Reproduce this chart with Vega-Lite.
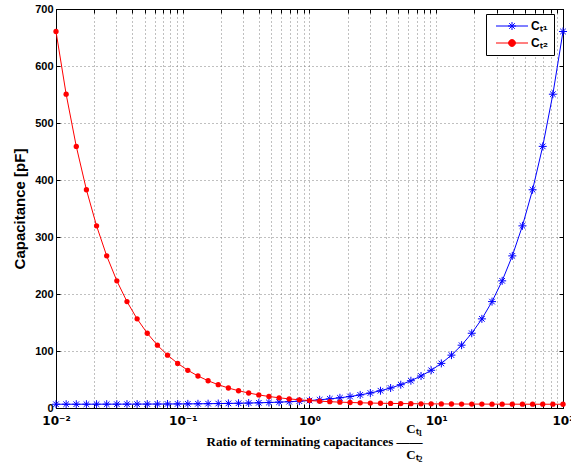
{
  "$schema": "https://vega.github.io/schema/vega-lite/v6.json",
  "width": 507,
  "height": 399,
  "autosize": {"type": "none"},
  "padding": {"left": 56, "top": 9, "right": 8, "bottom": 55},
  "background": "white",
  "data": {
    "values": [
      {"x": 0.01, "CT1": 6.61, "CT2": 660.54},
      {"x": 0.012023, "CT1": 6.62, "CT2": 550.51},
      {"x": 0.014454, "CT1": 6.63, "CT2": 458.99},
      {"x": 0.017378, "CT1": 6.65, "CT2": 382.88},
      {"x": 0.020893, "CT1": 6.68, "CT2": 319.56},
      {"x": 0.025119, "CT1": 6.70, "CT2": 266.90},
      {"x": 0.0302, "CT1": 6.74, "CT2": 223.10},
      {"x": 0.036308, "CT1": 6.78, "CT2": 186.66},
      {"x": 0.043652, "CT1": 6.83, "CT2": 156.36},
      {"x": 0.052481, "CT1": 6.88, "CT2": 131.16},
      {"x": 0.063096, "CT1": 6.95, "CT2": 110.19},
      {"x": 0.075858, "CT1": 7.04, "CT2": 92.76},
      {"x": 0.091201, "CT1": 7.14, "CT2": 78.25},
      {"x": 0.10965, "CT1": 7.26, "CT2": 66.19},
      {"x": 0.13183, "CT1": 7.40, "CT2": 56.15},
      {"x": 0.15849, "CT1": 7.58, "CT2": 47.81},
      {"x": 0.19055, "CT1": 7.79, "CT2": 40.86},
      {"x": 0.22909, "CT1": 8.04, "CT2": 35.09},
      {"x": 0.27542, "CT1": 8.34, "CT2": 30.29},
      {"x": 0.33113, "CT1": 8.71, "CT2": 26.29},
      {"x": 0.39811, "CT1": 9.14, "CT2": 22.97},
      {"x": 0.47863, "CT1": 9.67, "CT2": 20.20},
      {"x": 0.57544, "CT1": 10.30, "CT2": 17.91},
      {"x": 0.69183, "CT1": 11.07, "CT2": 15.99},
      {"x": 0.83176, "CT1": 11.98, "CT2": 14.40},
      {"x": 1, "CT1": 13.08, "CT2": 13.08},
      {"x": 1.2023, "CT1": 14.40, "CT2": 11.98},
      {"x": 1.4454, "CT1": 15.99, "CT2": 11.07},
      {"x": 1.7378, "CT1": 17.91, "CT2": 10.30},
      {"x": 2.0893, "CT1": 20.20, "CT2": 9.67},
      {"x": 2.5119, "CT1": 22.97, "CT2": 9.14},
      {"x": 3.02, "CT1": 26.29, "CT2": 8.71},
      {"x": 3.6308, "CT1": 30.29, "CT2": 8.34},
      {"x": 4.3652, "CT1": 35.09, "CT2": 8.04},
      {"x": 5.2481, "CT1": 40.86, "CT2": 7.79},
      {"x": 6.3096, "CT1": 47.81, "CT2": 7.58},
      {"x": 7.5858, "CT1": 56.15, "CT2": 7.40},
      {"x": 9.1201, "CT1": 66.19, "CT2": 7.26},
      {"x": 10.965, "CT1": 78.25, "CT2": 7.14},
      {"x": 13.183, "CT1": 92.76, "CT2": 7.04},
      {"x": 15.849, "CT1": 110.19, "CT2": 6.95},
      {"x": 19.055, "CT1": 131.16, "CT2": 6.88},
      {"x": 22.909, "CT1": 156.36, "CT2": 6.83},
      {"x": 27.542, "CT1": 186.66, "CT2": 6.78},
      {"x": 33.113, "CT1": 223.10, "CT2": 6.74},
      {"x": 39.811, "CT1": 266.90, "CT2": 6.70},
      {"x": 47.863, "CT1": 319.56, "CT2": 6.68},
      {"x": 57.544, "CT1": 382.88, "CT2": 6.65},
      {"x": 69.183, "CT1": 458.99, "CT2": 6.63},
      {"x": 83.176, "CT1": 550.51, "CT2": 6.62},
      {"x": 100, "CT1": 660.54, "CT2": 6.61}
    ]
  },
  "resolve": {"axis": {"x": "independent", "y": "independent"}},
  "layer": [
    {
      "mark": {"type": "line", "color": "#0000ff", "strokeWidth": 1, "clip": false},
      "encoding": {
        "x": {
          "field": "x", "type": "quantitative",
          "scale": {"type": "log", "domain": [0.01, 100], "nice": false},
          "axis": {
            "orient": "bottom",
            "values": [0.01,0.02,0.03,0.04,0.05,0.06,0.07,0.08,0.09,0.1,0.2,0.3,0.4,0.5,0.6,0.7,0.8,0.9,1,2,3,4,5,6,7,8,9,10,20,30,40,50,60,70,80,90,100],
            "labelExpr": "datum.value==0.01?'10⁻²':datum.value==0.1?'10⁻¹':datum.value==1?'10⁰':datum.value==10?'10¹':datum.value==100?'10²':''",
            "labelFont": "DejaVu Sans",
            "labelFontSize": 12,
            "labelPadding": 11,
            "title": ["C\u209c\u2081\u00a0", "Ratio of terminating capacitances \u2014\u2014", "C\u209c\u2082\u00a0"],
            "titleFont": "Liberation Serif",
            "titleFontSize": 13,
            "titleFontWeight": "bold",
            "titleLineHeight": 13,
            "titleAlign": "right",
            "titleBaseline": "top",
            "titleX": 366,
            "titleY": 14
          }
        },
        "y": {
          "field": "CT1", "type": "quantitative",
          "scale": {"domain": [0, 700], "nice": false},
          "axis": {
            "orient": "left",
            "values": [0,100,200,300,400,500,600,700],
            "labelPadding": 7,
            "title": "Capacitance [pF]",
            "titleFont": "Liberation Sans",
            "titleFontSize": 15,
            "titleFontWeight": "bold",
            "titlePadding": 7
          }
        }
      }
    },
    {
      "mark": {"type": "point", "shape": "M-1,0L1,0M0,-1L0,1M-0.7,-0.7L0.7,0.7M-0.7,0.7L0.7,-0.7", "filled": false, "color": "#0000ff", "size": 64, "strokeWidth": 1, "opacity": 1, "clip": false},
      "encoding": {
        "x": {"field": "x", "type": "quantitative", "axis": null},
        "y": {"field": "CT1", "type": "quantitative", "axis": null}
      }
    },
    {
      "mark": {"type": "line", "color": "#ff0000", "strokeWidth": 1, "clip": false},
      "encoding": {
        "x": {"field": "x", "type": "quantitative", "axis": null},
        "y": {"field": "CT2", "type": "quantitative", "axis": null}
      }
    },
    {
      "mark": {"type": "circle", "color": "#ff0000", "size": 28, "opacity": 1, "clip": false},
      "encoding": {
        "x": {
          "field": "x", "type": "quantitative",
          "axis": {
            "orient": "top", "labels": false, "title": null, "grid": false,
            "values": [0.01,0.02,0.03,0.04,0.05,0.06,0.07,0.08,0.09,0.1,0.2,0.3,0.4,0.5,0.6,0.7,0.8,0.9,1,2,3,4,5,6,7,8,9,10,20,30,40,50,60,70,80,90,100]
          }
        },
        "y": {
          "field": "CT2", "type": "quantitative",
          "axis": {"orient": "right", "labels": false, "title": null, "grid": false, "values": [0,100,200,300,400,500,600,700]}
        }
      }
    },
    {
      "data": {"values": [{"series": "CT1"}, {"series": "CT2"}]},
      "transform": [{"filter": "datum.series == 'none'"}],
      "mark": {"type": "point", "filled": true, "size": 64, "strokeWidth": 1, "opacity": 1},
      "encoding": {
        "color": {
          "field": "series", "type": "nominal",
          "scale": {"domain": ["CT1", "CT2"], "range": ["#0000ff", "#ff0000"]},
          "legend": {
            "title": null,
            "orient": "none",
            "legendX": 430,
            "legendY": 5,
            "labelExpr": "datum.label == 'CT1' ? 'C\u209c\u2081' : 'C\u209c\u2082'"
          }
        },
        "stroke": {
          "field": "series", "type": "nominal",
          "scale": {"domain": ["CT1", "CT2"], "range": ["#0000ff", "#ff0000"]},
          "legend": {
            "title": null,
            "orient": "none",
            "legendX": 430,
            "legendY": 5,
            "labelExpr": "datum.label == 'CT1' ? 'C\u209c\u2081' : 'C\u209c\u2082'"
          }
        },
        "shape": {
          "field": "series", "type": "nominal",
          "scale": {
            "domain": ["CT1", "CT2"],
            "range": [
              "M-4,0L4,0M-1,0L1,0M0,-1L0,1M-0.7,-0.7L0.7,0.7M-0.7,0.7L0.7,-0.7",
              "M-4,0L4,0M-0.85,0A0.85,0.85 0 1,0 0.85,0A0.85,0.85 0 1,0 -0.85,0"
            ]
          },
          "legend": {
            "title": null,
            "orient": "none",
            "legendX": 430,
            "legendY": 5,
            "labelExpr": "datum.label == 'CT1' ? 'C\u209c\u2081' : 'C\u209c\u2082'"
          }
        }
      }
    }
  ],
  "config": {
    "view": {"stroke": "black", "strokeWidth": 1},
    "axis": {
      "domainColor": "black",
      "domainWidth": 1,
      "tickColor": "black",
      "tickSize": -4,
      "tickWidth": 1,
      "labelFont": "Liberation Sans",
      "labelFontSize": 11,
      "labelFontWeight": "bold",
      "labelColor": "black",
      "titleColor": "black",
      "grid": true,
      "gridColor": "#808080",
      "gridDash": [1, 3],
      "gridWidth": 1,
      "gridOpacity": 1,
      "labelFlush": false,
      "labelOverlap": false
    },
    "legend": {
      "strokeColor": "black",
      "fillColor": "white",
      "padding": 6,
      "rowPadding": 5,
      "symbolSize": 64,
      "symbolStrokeWidth": 1,
      "symbolOffset": 14,
      "labelOffset": 13,
      "labelFont": "Liberation Sans",
      "labelFontSize": 12,
      "labelFontWeight": "bold",
      "labelColor": "black",
      "cornerRadius": 0
    }
  }
}
